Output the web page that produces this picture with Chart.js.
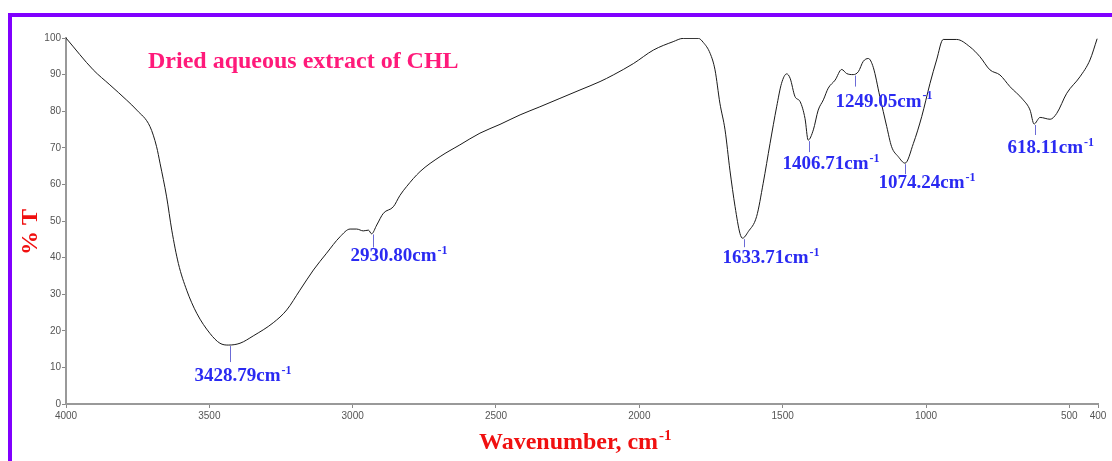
<!DOCTYPE html>
<html>
<head>
<meta charset="utf-8">
<script src="https://cdn.jsdelivr.net/npm/chart.js@4.4.1/dist/chart.umd.min.js"></script>
<style>
  html, body { margin: 0; padding: 0; background: #ffffff; }
  #wrap { width: 1112px; height: 461px; position: relative; }
</style>
</head>
<body>
<div id="wrap"><canvas id="c" width="1112" height="461"></canvas></div>
<script>
// ---- data ----
const wavenumbers = [4000, 3905, 3847, 3788, 3753, 3707, 3684, 3672, 3649, 3631, 3608, 3579, 3544, 3498, 3463, 3434, 3393, 3347, 3277, 3230, 3184, 3137, 3091, 3044, 3009, 2986, 2963, 2945, 2934, 2916, 2893, 2858, 2835, 2812, 2765, 2695, 2626, 2556, 2486, 2416, 2347, 2277, 2207, 2137, 2091, 2021, 1951, 1882, 1847, 1794, 1777, 1753, 1736, 1719, 1701, 1684, 1666, 1649, 1640, 1620, 1591, 1568, 1544, 1521, 1504, 1486, 1474, 1457, 1439, 1422, 1411, 1393, 1376, 1358, 1341, 1317, 1294, 1277, 1254, 1236, 1219, 1201, 1184, 1161, 1137, 1120, 1097, 1073, 1044, 1015, 986, 963, 940, 893, 847, 812, 777, 742, 707, 661, 637, 623, 602, 567, 544, 509, 463, 428, 403];
const transmittance = [100, 91.3, 87.2, 83, 80.3, 75.8, 70.3, 65.8, 56.6, 47.5, 38.4, 31.1, 24.8, 19.3, 16.6, 16.1, 16.6, 18.6, 22.2, 25.7, 31.1, 36.6, 41.2, 45.7, 47.8, 47.8, 47.3, 47.5, 46.5, 48.9, 52.1, 53.9, 57, 59.4, 63.5, 67.6, 70.8, 74, 76.4, 79, 81.2, 83.5, 85.8, 88.1, 89.9, 93, 96.7, 99, 99.9, 99.9, 98.8, 95.8, 91.3, 82.2, 74.9, 63.9, 53.9, 46.6, 45.3, 47.1, 51.2, 60.3, 71.2, 81.2, 87.6, 90.2, 89, 84, 82.6, 78, 72.1, 74.9, 80.3, 83.1, 86.3, 88.5, 91.4, 90.3, 90, 90.8, 93.6, 94.4, 92, 84, 75.8, 70.3, 67.6, 65.8, 71.2, 78.5, 87.6, 94, 99.6, 99.6, 97.6, 94.9, 91.3, 89.9, 86.7, 83.1, 80.3, 76.5, 78.3, 77.8, 79.4, 84.9, 89.4, 94, 99.8];
const xTickValues = [4000, 3500, 3000, 2500, 2000, 1500, 1000, 500, 400];
const yTickValues = [0, 10, 20, 30, 40, 50, 60, 70, 80, 90, 100];
const peakWavenumbers = [3428.79, 2930.80, 1633.71, 1406.71, 1249.05, 1074.24, 618.11];
const peakTransmittance = [16.1, 46.6, 45.3, 72.1, 90.0, 65.8, 76.5];
const peakLabels = ["3428.79", "2930.80", "1633.71", "1406.71", "1249.05", "1074.24", "618.11"];
const titleText = "Dried aqueous extract of CHL";
const yTitle = "% T";
const xTitleBase = "Wavenumber, cm";
const supText = "-1";

// ---- layout of the peak annotations (pixel offsets, not data) ----
const peakTickLen = [16, 13, 8, 11, 11, 10, 10];
const peakTextDx = [-36, -23, -22, -27, -20, -27, -28];
const peakTextDy = [36, 28, 25, 29, 32, 25, 29];

function drawSup(ctx, base, sup, x, y, size, color, family) {
  ctx.fillStyle = color;
  ctx.textAlign = 'left';
  ctx.textBaseline = 'alphabetic';
  ctx.font = 'bold ' + size + 'px ' + family;
  ctx.fillText(base, x, y);
  const w = ctx.measureText(base).width;
  const s = Math.round(size * 0.62);
  ctx.font = 'bold ' + s + 'px ' + family;
  ctx.fillText(sup, x + w + 1, y - size * 0.38);
  return w + 1 + ctx.measureText(sup).width;
}

const SERIF = '"Liberation Serif", "Times New Roman", serif';

const decor = {
  id: 'decor',
  afterDraw(chart) {
    const ctx = chart.ctx;
    const xs = chart.scales.x, ys = chart.scales.y;
    ctx.save();
    // purple frame
    ctx.fillStyle = '#8000ff';
    ctx.fillRect(8, 13, 4, 448);
    ctx.fillRect(8, 13, 1104, 4);

    // title
    ctx.font = 'bold 24px ' + SERIF;
    ctx.fillStyle = '#ff1a7a';
    ctx.textAlign = 'left';
    ctx.textBaseline = 'alphabetic';
    ctx.fillText(titleText, 148, 68);

    // y title, rotated
    ctx.save();
    ctx.translate(37, 232);
    ctx.rotate(-Math.PI / 2);
    ctx.font = 'bold 24px ' + SERIF;
    ctx.fillStyle = '#f01010';
    ctx.textAlign = 'center';
    ctx.textBaseline = 'alphabetic';
    ctx.fillText(yTitle, 0, 0);
    ctx.restore();

    // x title
    drawSup(ctx, xTitleBase, supText, 479, 449, 24, '#f01010', SERIF);

    // peak annotations
    for (let i = 0; i < peakWavenumbers.length; i++) {
      const px = Math.round(xs.getPixelForValue(peakWavenumbers[i])) + 0.5;
      const py = ys.getPixelForValue(peakTransmittance[i]);
      ctx.strokeStyle = '#6b6bd6';
      ctx.lineWidth = 1;
      ctx.beginPath();
      ctx.moveTo(px, py + 1);
      ctx.lineTo(px, py + 1 + peakTickLen[i]);
      ctx.stroke();
      drawSup(ctx, peakLabels[i] + 'cm', supText, px + peakTextDx[i], py + peakTextDy[i], 19, '#2a2af2', SERIF);
    }
    ctx.restore();
  }
};

const points = wavenumbers.map((w, i) => ({ x: w, y: transmittance[i] }));

new Chart(document.getElementById('c'), {
  type: 'scatter',
  data: {
    datasets: [{
      data: points,
      showLine: true,
      borderColor: '#1a1a1a',
      borderWidth: 1,
      pointRadius: 0,
      cubicInterpolationMode: 'monotone',
      fill: false
    }]
  },
  options: {
    responsive: false,
    animation: false,
    devicePixelRatio: 1,
    layout: { padding: { left: 0, right: 14, top: 38, bottom: 0 } },
    plugins: { legend: { display: false }, tooltip: { enabled: false }, title: { display: false } },
    scales: {
      x: {
        type: 'linear',
        reverse: true,
        min: 400,
        max: 4000,
        afterBuildTicks(scale) { scale.ticks = xTickValues.map(v => ({ value: v })); },
        afterFit(scale) { scale.height = 57; },
        grid: { drawOnChartArea: false, drawTicks: true, tickLength: 4, color: '#888888' },
        border: { display: true, color: '#999999', width: 2 },
        ticks: {
          autoSkip: false, maxRotation: 0, padding: 2,
          color: '#555555',
          font: { family: '"Liberation Sans", Arial, sans-serif', size: 10 },
          callback: v => String(v)
        }
      },
      y: {
        type: 'linear',
        min: 0,
        max: 100,
        afterBuildTicks(scale) { scale.ticks = yTickValues.map(v => ({ value: v })); },
        afterFit(scale) { scale.width = 66; },
        grid: { drawOnChartArea: false, drawTicks: true, tickLength: 4, color: '#888888' },
        border: { display: true, color: '#999999', width: 2 },
        ticks: {
          autoSkip: false, padding: 1,
          color: '#555555',
          font: { family: '"Liberation Sans", Arial, sans-serif', size: 10 },
          callback: v => String(v)
        }
      }
    }
  },
  plugins: [decor]
});
</script>
</body>
</html>
